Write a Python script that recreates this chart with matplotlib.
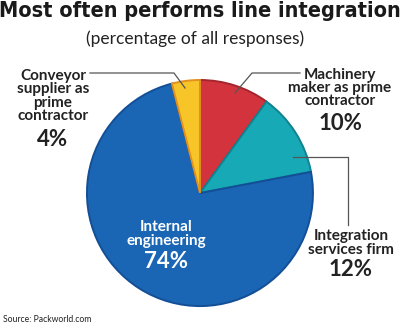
import matplotlib
matplotlib.use("Agg")
import matplotlib.pyplot as plt

# Survey shares, clockwise from twelve o'clock
categories = ["Machinery maker as prime contractor",
              "Integration services firm",
              "Internal engineering",
              "Conveyor supplier as prime contractor"]
shares = [10, 12, 74, 4]
face_colors = ["#d3333d", "#18a9b6", "#1a66b5", "#f8c528"]
edge_colors = ["#a3262f", "#10838f", "#134f96", "#e2901f"]
explode = [0, 0, 0.09, 0]

fig = plt.figure(figsize=(4, 3.25), dpi=100)
ax = fig.add_axes([0, 0, 1, 1])

wedges, _ = ax.pie(shares, startangle=90, counterclock=False,
                   center=(200, 132), radius=113, explode=explode,
                   colors=face_colors,
                   wedgeprops=dict(linewidth=1.4))
for w, ec in zip(wedges, edge_colors):
    w.set_edgecolor(ec)

ax.set_xlim(0, 400)
ax.set_ylim(0, 325)
ax.set_aspect("equal")
ax.axis("off")

H = 325
label_font = "Lato"
dark = "#222222"

ax.text(200, H - 11, "Most often performs line integration",
        ha="center", va="center", fontsize=15.6, fontweight="heavy",
        family="DejaVu Sans", fontstretch="condensed", color="#1a1a1a")
ax.text(195, H - 39, "(percentage of all responses)", ha="center", va="center",
        fontsize=12.5, family=label_font, color=dark)

# Conveyor supplier
ax.text(53, H - 96, "Conveyor\nsupplier as\nprime\ncontractor", ha="center",
        va="center", fontsize=11, fontweight="bold", family=label_font,
        color=dark, linespacing=0.95)
ax.text(53, H - 139, f"{shares[3]}%", ha="center", va="center", fontsize=16,
        fontweight="bold", family=label_font, color=dark)
ax.plot([90, 174, 185], [H - 73, H - 73, H - 88], color="#555555", lw=0.9)

# Machinery maker
ax.text(340, H - 88, "Machinery\nmaker as prime\ncontractor", ha="center",
        va="center", fontsize=11, fontweight="bold", family=label_font,
        color=dark, linespacing=0.95)
ax.text(340, H - 124, f"{shares[0]}%", ha="center", va="center", fontsize=16,
        fontweight="bold", family=label_font, color=dark)
ax.plot([300, 252, 235], [H - 73, H - 73, H - 93], color="#555555", lw=0.9)

# Integration services firm
ax.text(351, H - 243, "Integration\nservices firm", ha="center", va="center",
        fontsize=11, fontweight="bold", family=label_font, color=dark,
        linespacing=0.95)
ax.text(351, H - 270, f"{shares[1]}%", ha="center", va="center", fontsize=16,
        fontweight="bold", family=label_font, color=dark)
ax.plot([293, 348, 348], [H - 157, H - 157, H - 225], color="#555555", lw=0.9)

# Internal engineering
ax.text(166, H - 234, "Internal\nengineering", ha="center", va="center",
        fontsize=11, fontweight="bold", family=label_font, color="white",
        linespacing=0.95)
ax.text(166, H - 262, f"{shares[2]}%", ha="center", va="center", fontsize=16,
        fontweight="bold", family=label_font, color="white")

ax.text(3, H - 319, "Source: Packworld.com", ha="left", va="center",
        fontsize=6.2, family=label_font, color=dark)

fig.savefig("out.png", dpi=100, facecolor="white")
